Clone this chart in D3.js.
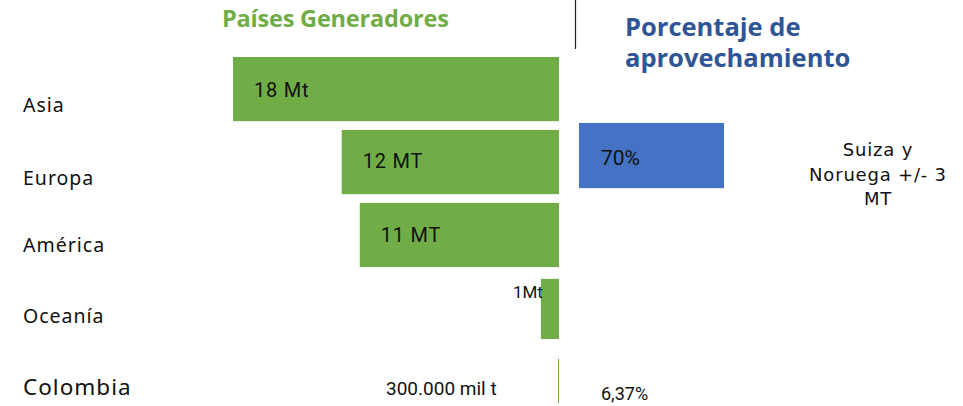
<!DOCTYPE html>
<html>
<head>
<meta charset="utf-8">
<script src="https://cdn.jsdelivr.net/npm/d3@7"></script>
<style>
body{margin:0;background:#fff;}
svg{display:block;}
</style>
</head>
<body>
<svg id="chart"></svg>
<script>
const width=963;
const height=406;

// datos
const regiones=["Asia","Europa","América","Oceanía","Colombia"];
const generacion=[18,12,11,1,0.05];            // Mt
const etiquetasGen=["18 Mt","12 MT","11 MT","1Mt","300.000 mil t"];
const aprovechamiento=[null,70,null,null,6.37]; // %
const etiquetasApr=[null,"70%",null,null,"6,37%"];
const nota=["Suiza y","Noruega +/- 3","MT"];

const data=regiones.map((r,i)=>({region:r,gen:generacion[i],genLabel:etiquetasGen[i],apr:aprovechamiento[i],aprLabel:etiquetasApr[i]}));

const svg=d3.select("#chart")
  .attr("width",width)
  .attr("height",height);

const xRight=559;
const xGen=d3.scaleLinear().domain([0,18]).range([0,326]);
const xApr=d3.scaleLinear().domain([0,70]).range([0,145]);
const y=d3.scaleBand().domain(regiones).range([57,413]).paddingInner(0.12).paddingOuter(0);

const green="#70AD47";
const blue="#4472C4";

// titulos
svg.append("text")
  .attr("x",222).attr("y",27)
  .attr("fill","#70AD47")
  .style("font-family","'Open Sans'")
  .style("font-weight",700)
  .style("font-size","23.5px")
  .style("letter-spacing","-0.2px")
  .text("Países Generadores");

svg.append("line")
  .attr("x1",575.5).attr("x2",575.5)
  .attr("y1",0).attr("y2",49)
  .attr("stroke","#222").attr("stroke-width",1.2);

svg.append("text")
  .attr("fill","#2F5597")
  .style("font-family","'Open Sans'")
  .style("font-weight",700)
  .style("font-size","25.5px")
  .selectAll("tspan")
  .data(["Porcentaje de","aprovechamiento"])
  .enter().append("tspan")
  .attr("x",625)
  .attr("y",(d,i)=>36+i*31)
  .text(d=>d);

// barras generacion
const offY=[0,0,0,3,10];
const offH=[0,0,0,-4,-20];
svg.append("g").selectAll("rect")
  .data(data)
  .enter().append("rect")
  .attr("x",d=>xRight-Math.max(xGen(d.gen),1))
  .attr("y",(d,i)=>y(d.region)+offY[i])
  .attr("width",d=>Math.max(xGen(d.gen),1))
  .attr("height",(d,i)=>y.bandwidth()+offH[i])
  .attr("fill",green);

// etiquetas de regiones
svg.append("g").selectAll("text")
  .data(data)
  .enter().append("text")
  .attr("x",23)
  .attr("y",(d,i)=>y(d.region)+y.bandwidth()/2+[23,23,17,15,14][i])
  .style("font-family","'Noto Sans'")
  .style("font-size",d=>d.region=="Colombia"?"22.5px":"19.5px")
  .style("letter-spacing",d=>d.region=="Colombia"?"1px":"1px")
  .attr("fill","#111")
  .text(d=>d.region);

// valores generacion
svg.append("g").selectAll("text")
  .data(data)
  .enter().append("text")
  .attr("x",d=>{
    if(d.gen>=5) return xRight-xGen(d.gen)+21;
    if(d.region=="Oceanía") return xRight-xGen(d.gen)+2;
    return 386;
  })
  .attr("y",(d,i)=>{
    if(d.gen>=5) return y(d.region)+y.bandwidth()/2+[8,6,7][i];
    if(d.region=="Oceanía") return y(d.region)+22;
    return y(d.region)+y.bandwidth()/2+14;
  })
  .attr("text-anchor",d=>d.region=="Oceanía"?"end":"start")
  .style("font-family","Roboto")
  .style("font-size",d=>d.gen>=5?"20px":(d.region=="Oceanía"?"17px":"19px"))
  .style("letter-spacing",d=>d.gen>=5?"0.8px":"0px")
  .attr("fill","#111")
  .text(d=>d.genLabel);

// barras aprovechamiento
const aprX=579;
svg.append("g").selectAll("rect")
  .data(data.filter(d=>d.apr!=null && d.region!="Colombia"))
  .enter().append("rect")
  .attr("x",aprX)
  .attr("y",d=>y(d.region)-7)
  .attr("width",d=>xApr(d.apr))
  .attr("height",y.bandwidth()+1)
  .attr("fill",blue);

svg.append("g").selectAll("text")
  .data(data.filter(d=>d.aprLabel))
  .enter().append("text")
  .attr("x",aprX+22)
  .attr("y",d=>d.region=="Colombia"?y(d.region)+y.bandwidth()/2+19:y(d.region)+y.bandwidth()/2+3)
  .style("font-family","Roboto")
  .style("font-size",d=>d.region=="Colombia"?"18px":"21px")
  .attr("fill","#111")
  .text(d=>d.aprLabel);

// nota
svg.append("text")
  .attr("text-anchor","middle")
  .style("font-family","'DejaVu Sans'")
  .style("font-size","18px")
  .style("letter-spacing","0.8px")
  .attr("fill","#111")
  .selectAll("tspan")
  .data(nota)
  .enter().append("tspan")
  .attr("x",878)
  .attr("y",(d,i)=>156+i*24.5)
  .text(d=>d);
</script>
</body>
</html>
